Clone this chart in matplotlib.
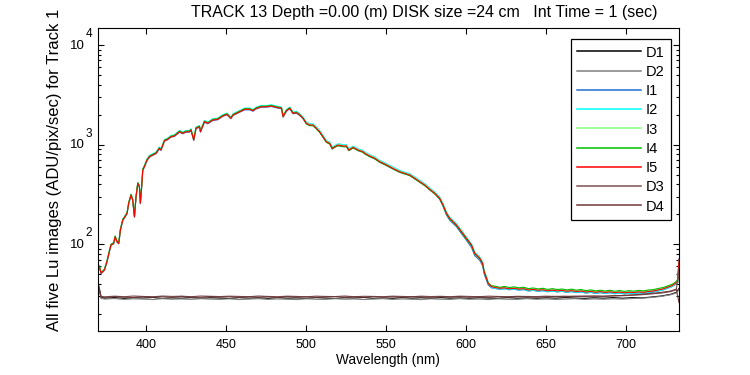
import matplotlib
matplotlib.use("Agg")
import matplotlib.pyplot as plt
from matplotlib.ticker import LogLocator, NullLocator, FixedLocator, NullFormatter

plt.rcParams['font.family'] = ['Liberation Sans', 'DejaVu Sans']

title = "TRACK 13 Depth =0.00 (m) DISK size =24 cm   Int Time = 1 (sec)"
xlabel = "Wavelength (nm)"
ylabel = "All five Lu images (ADU/pix/sec) for Track 1"
names = ["D1", "D2", "I1", "I2", "I3", "I4", "I5", "D3", "D4"]
xticks = [400, 450, 500, 550, 600, 650, 700]
ydecades = [2, 3, 4]

# wavelengths for the illuminated (I) spectra
wl_b = [369.7, 370.6, 371.6, 373.7, 375.3, 376.8, 377.8, 379.5, 380.4, 381.6,
        382.7, 383.7, 385.2, 386.6, 387.9, 388.9, 390.4, 391.4, 392.5, 393.5,
        394.6, 395.6, 396.2, 397.1, 397.7, 398.7, 400.4, 401.9, 403.9, 406.0,
        408.1, 409.1, 411.3, 413.3, 415.4, 417.5, 420.7, 422.7, 424.8, 426.9,
        427.9, 429.6, 431.0, 433.2, 433.8, 436.3, 438.4, 441.5, 444.6, 447.7,
        450.4, 452.8, 454.2, 456.3, 458.4, 461.5, 464.6, 466.7, 468.8, 471.9,
        475.1, 478.2, 481.4, 484.5, 485.5, 487.6, 489.7, 491.7, 493.9, 495.9,
        498.0, 500.1, 502.2, 504.3, 506.4, 508.4, 510.5, 512.6, 514.7, 516.2,
        517.8, 519.9, 523.0, 525.2, 526.6, 529.3, 532.4, 535.5, 536.6, 539.7,
        542.9, 546.0, 549.1, 552.3, 555.4, 558.5, 561.6, 564.8, 567.9, 571.0,
        574.2, 577.3, 580.4, 583.5, 585.6, 587.7, 589.8, 594.0, 597.1, 600.2,
        603.4, 605.4, 608.6, 610.3, 611.3, 612.8, 613.8,
        615.9, 618.5, 621.1, 624.0, 627.0, 630.0, 633.0, 636.0, 639.0, 642.0,
        645.0, 648.0, 651.0, 654.0, 657.0, 660.0, 663.0, 666.0, 669.0, 672.0,
        675.0, 678.0, 681.0, 684.0, 687.0, 690.0, 693.0, 696.0, 699.0, 702.0,
        705.0, 708.0, 711.0, 714.0, 717.0, 720.0, 723.0, 726.0, 729.0, 731.0,
        732.4, 733.2]

I1 = [61.4, 59, 50.7, 54.6, 66.2, 83.5, 97.4, 101, 118, 105, 101, 138, 173, 187, 203, 255, 309, 275, 187, 297,
      405, 374, 255, 389, 550, 594, 694, 748, 779, 810, 909, 874, 1083, 1119, 1188, 1208, 1334, 1285, 1334, 1334,
      1387, 1101, 1442, 1497, 1334, 1680, 1620, 1747, 1776, 1917, 1993, 1818, 1961, 2039, 2117, 2236, 2236, 2166, 2289, 2375,
      2375, 2414, 2342, 2289, 1886, 2166, 2289, 2039, 2068, 1961, 1818, 1620, 1557, 1557, 1442, 1334, 1188, 1058, 1020, 909,
      943, 981, 958, 958, 874, 931, 874, 841, 810, 761, 722, 667, 633, 594, 559, 530, 510, 491, 454, 421,
      389, 352, 322, 283, 240, 197, 174, 150, 128, 110, 93, 77, 69, 61, 50.5, 43.5, 39.2,
      36.6, 36.0, 35.4, 35.8, 35.0, 35.4, 34.7, 35.1, 34.0, 34.5, 33.8, 34.2, 33.4, 33.9, 33.3, 33.7, 33.0, 33.5, 32.8, 33.2,
      32.4, 32.9, 32.2, 32.7, 32.1, 32.6, 31.9, 32.4, 31.8, 32.3, 32.0, 32.5, 32.2, 32.8, 33.2, 34.0, 34.8, 36.2, 37.8, 39.8,
      41.2, 72]
I2 = [63.2, 60.8, 52.2, 56.3, 68.2, 86.0, 100, 104, 121, 108, 104, 142, 179, 193, 209, 263, 318, 284, 193, 306,
      417, 389, 266, 405, 573, 618, 722, 779, 811, 843, 946, 909, 1127, 1164, 1236, 1257, 1387, 1337, 1387, 1387,
      1443, 1145, 1501, 1557, 1387, 1748, 1685, 1818, 1848, 1994, 2073, 1891, 2040, 2122, 2202, 2327, 2327, 2254, 2381, 2471,
      2471, 2511, 2437, 2381, 1962, 2254, 2381, 2122, 2152, 2040, 1891, 1685, 1620, 1620, 1501, 1387, 1236, 1101, 1061, 946,
      982, 1021, 997, 997, 909, 968, 909, 874, 843, 792, 751, 694, 658, 618, 582, 551, 530, 511, 473, 438,
      405, 367, 335, 298, 255, 211, 187, 161, 138, 118, 101, 83.6, 74.6, 66.4, 54.7, 47.0, 41.8,
      37.0, 36.1, 35.6, 35.9, 35.2, 35.5, 34.9, 35.2, 34.2, 34.6, 34.0, 34.3, 33.6, 34.0, 33.5, 33.8, 33.2, 33.6, 33.0, 33.3,
      32.6, 33.0, 32.4, 32.8, 32.3, 32.7, 32.1, 32.5, 32.0, 32.4, 32.2, 32.6, 32.4, 32.9, 33.4, 34.1, 34.9, 36.3, 37.9, 39.9,
      41.5, 68]
I3 = [62.6, 60.2, 51.7, 55.8, 67.6, 85.1, 99.4, 103, 120, 107, 103, 140, 177, 191, 207, 261, 315, 281, 191, 303,
      413, 382, 261, 397, 562, 606, 708, 764, 795, 826, 927, 892, 1105, 1141, 1212, 1232, 1360, 1311, 1360, 1360,
      1415, 1123, 1472, 1527, 1360, 1714, 1652, 1783, 1812, 1955, 2033, 1854, 2001, 2081, 2159, 2282, 2282, 2210, 2335, 2423,
      2423, 2462, 2390, 2335, 1924, 2210, 2335, 2081, 2110, 2001, 1854, 1652, 1589, 1589, 1472, 1360, 1212, 1080, 1040, 927,
      963, 1001, 978, 978, 892, 949, 892, 857, 826, 777, 736, 681, 645, 606, 571, 540, 520, 501, 464, 429,
      397, 360, 328, 292, 250, 207, 184, 158, 135, 116, 99.4, 82, 73.1, 65.1, 53.6, 46.1, 41,
      38.0, 37.2, 36.6, 37.0, 36.2, 36.6, 35.9, 36.3, 35.2, 35.7, 35.0, 35.4, 34.6, 35.1, 34.5, 34.9, 34.2, 34.7, 34.0, 34.4,
      33.6, 34.1, 33.4, 33.9, 33.3, 33.8, 33.1, 33.6, 33.0, 33.5, 33.2, 33.7, 33.4, 34.0, 34.4, 35.2, 36.0, 37.4, 39.0, 41.0,
      43, 67]
I4 = [63, 60.5, 52, 56, 68, 86, 100, 104, 121, 108, 104, 141, 178, 192, 208, 262, 317, 282, 192, 305,
      415, 384, 262, 399, 564, 609, 712, 767, 799, 830, 932, 896, 1110, 1147, 1218, 1238, 1367, 1317, 1367, 1367,
      1422, 1129, 1479, 1535, 1367, 1722, 1661, 1791, 1821, 1965, 2043, 1864, 2011, 2091, 2170, 2293, 2293, 2221, 2347, 2435,
      2435, 2475, 2402, 2347, 1934, 2221, 2347, 2091, 2120, 2011, 1836, 1611, 1549, 1549, 1435, 1327, 1182, 1053, 1015, 904,
      939, 976, 953, 953, 870, 926, 870, 836, 806, 757, 718, 664, 629, 591, 557, 527, 507, 489, 452, 419,
      387, 351, 320, 285, 244, 202, 179, 154, 132, 113, 97, 80, 71.5, 64, 53, 45.5, 40.8,
      38.5, 37.9, 37.0, 37.8, 36.9, 37.4, 36.6, 37.1, 35.9, 36.5, 35.7, 36.2, 35.3, 35.9, 35.2, 35.6, 34.9, 35.5, 34.7, 35.2,
      34.3, 34.9, 34.1, 34.6, 34.0, 34.6, 33.8, 34.4, 33.7, 34.3, 33.9, 34.5, 34.1, 34.8, 35.1, 36.0, 36.8, 38.2, 39.8, 41.8,
      44, 66]
I5 = [62, 59.6, 51.2, 55.2, 66.9, 84.3, 98.4, 102, 119, 106, 102, 139, 175, 189, 205, 258, 312, 278, 189, 300,
      409, 378, 258, 393, 556, 600, 701, 756, 787, 818, 918, 883, 1094, 1130, 1200, 1220, 1347, 1298, 1347, 1347,
      1401, 1112, 1457, 1512, 1347, 1697, 1636, 1765, 1794, 1936, 2013, 1836, 1981, 2060, 2138, 2259, 2259, 2188, 2312, 2399,
      2399, 2438, 2366, 2312, 1905, 2188, 2312, 2060, 2089, 1981, 1836, 1636, 1573, 1573, 1457, 1347, 1200, 1069, 1030, 918,
      953, 991, 968, 968, 883, 940, 883, 849, 818, 769, 729, 674, 639, 600, 565, 535, 515, 496, 459, 425,
      393, 356, 325, 289, 248, 205, 182, 156, 134, 115, 98.4, 81.2, 72.4, 64.5, 53.1, 45.6, 40.6,
      37.6, 36.8, 36.2, 36.6, 35.8, 36.2, 35.5, 35.9, 34.8, 35.3, 34.6, 35.0, 34.2, 34.7, 34.1, 34.5, 33.8, 34.3, 33.6, 34.0,
      33.2, 33.7, 33.0, 33.5, 32.9, 33.4, 32.7, 33.2, 32.6, 33.1, 32.8, 33.3, 33.0, 33.6, 34.0, 34.8, 35.6, 37.0, 38.6, 40.6,
      42.5, 70]

# wavelengths for the dark (D) spectra
wl_d = [369.7, 370.6, 371.6, 374, 380, 386, 392, 398, 404, 410, 416, 422, 428, 434, 440, 446, 452, 458, 464, 470,
        476, 482, 488, 494, 500, 506, 512, 518, 524, 530, 536, 542, 548, 554, 560, 566, 572, 578, 584, 590,
        596, 602, 608, 614, 620, 626, 632, 638, 644, 650, 656, 662, 668, 674, 680, 686, 692, 698, 704, 710,
        716, 722, 728, 731.5, 733.2]
D1 = [40.5, 35, 29.3, 28.8, 29.2, 28.7, 29.1, 28.9, 29.3, 28.6, 29.0, 28.8, 29.2, 28.7, 29.1, 28.9, 28.6, 29.2, 28.8, 29.1,
      28.7, 29.2, 28.8, 29.0, 28.7, 29.2, 28.9, 28.6, 29.1, 28.9, 29.3, 28.7, 29.0, 28.7, 29.2, 28.8, 29.1, 28.7, 29.2, 28.8,
      29.0, 28.7, 29.1, 28.9, 28.7, 29.2, 28.8, 29.0, 28.7, 29.1, 28.8, 29.2, 28.9, 28.7, 29.1, 28.8, 29.2, 28.8, 29.2, 29.0,
      29.6, 30.3, 31.5, 33, 36]
D2 = [39.5, 34, 28.6, 28.2, 28.6, 28.0, 28.4, 28.2, 27.9, 28.5, 28.1, 28.3, 28.0, 28.5, 28.2, 28.0, 28.4, 27.9, 28.2, 28.5,
      28.0, 28.3, 28.1, 27.9, 28.4, 28.1, 28.0, 28.5, 28.1, 28.3, 27.9, 28.2, 28.5, 28.0, 28.3, 28.1, 27.9, 28.4, 28.1, 28.0,
      28.5, 28.1, 28.2, 27.9, 28.4, 28.1, 28.0, 28.5, 28.1, 28.3, 28.0, 28.2, 28.5, 28.0, 28.3, 28.1, 28.4, 28.2, 28.6, 28.8,
      29.3, 30.0, 31.2, 32.5, 35]
D3 = [41, 36, 30.0, 29.7, 30.2, 29.8, 30.3, 30.0, 29.7, 30.3, 30.0, 30.2, 29.8, 30.3, 30.1, 29.9, 30.2, 30.0, 29.8, 30.3,
      30.0, 29.8, 30.2, 30.0, 29.7, 30.2, 30.0, 29.9, 30.3, 29.8, 30.1, 30.0, 29.8, 30.2, 30.0, 29.8, 30.2, 29.9, 30.1, 29.8,
      30.2, 30.0, 29.8, 30.2, 30.0, 29.8, 30.1, 30.0, 29.9, 30.2, 30.0, 30.2, 29.9, 30.3, 30.1, 30.0, 30.3, 30.5, 30.8, 31.2,
      31.8, 32.4, 33.5, 35, 58]
D4 = [40, 35, 29.7, 29.4, 29.9, 29.5, 29.3, 29.9, 29.6, 29.8, 29.4, 30.0, 29.6, 29.4, 29.9, 29.6, 29.8, 29.4, 29.9, 29.5,
      29.8, 29.4, 29.9, 29.6, 29.8, 29.4, 29.7, 29.9, 29.5, 29.8, 29.4, 29.9, 29.6, 29.8, 29.5, 29.9, 29.7, 29.4, 29.8, 29.6,
      29.9, 29.5, 29.8, 29.4, 29.8, 29.6, 29.9, 29.7, 29.5, 29.8, 30.0, 29.8, 30.2, 30.0, 30.3, 30.2, 30.5, 30.7, 31.1, 31.5,
      32.2, 32.9, 34.0, 35.5, 26]

colors = ["#000000", "#808080", "#2070d0", "#00ffff", "#80ff80",
          "#00c000", "#ff0000", "#805050", "#703838"]

series = [(wl_d, D1), (wl_d, D2), (wl_b, I1), (wl_b, I2), (wl_b, I3),
          (wl_b, I4), (wl_b, I5), (wl_d, D3), (wl_d, D4)]

fig = plt.figure(figsize=(7.5, 3.75), dpi=100)
ax = fig.add_axes([98 / 750, 1 - 331 / 375, (679 - 98) / 750, (331 - 28) / 375])

for (x, y), c, n in zip(series, colors, names):
    ax.plot(x, y, color=c, lw=0.8, label=n)

ax.set_yscale('log')
ax.set_xlim(369.7, 733.2)
ax.set_ylim(13.5, 14800)
ax.xaxis.set_major_locator(FixedLocator(xticks))
ax.xaxis.set_minor_locator(NullLocator())
ax.yaxis.set_major_locator(FixedLocator([10.0 ** k for k in ydecades]))
ax.yaxis.set_minor_locator(LogLocator(base=10, subs=range(2, 10), numticks=20))
ax.yaxis.set_major_formatter(NullFormatter())
ax.yaxis.set_minor_formatter(NullFormatter())

ax.tick_params(which='both', direction='in', top=True, right=True, width=0.8)
ax.tick_params(axis='x', labelsize=9, pad=6)
ax.tick_params(which='major', length=4.5)
ax.tick_params(which='minor', length=2.3)
for s in ax.spines.values():
    s.set_linewidth(0.8)

# y tick labels drawn as "10" with a raised exponent (MATLAB style)
for k in ydecades:
    ax.annotate("10", xy=(0, 10.0 ** k), xycoords=('axes fraction', 'data'),
                xytext=(-9.4, -0.5), textcoords='offset points',
                ha='right', va='center', fontsize=9.5)
    ax.annotate(str(k), xy=(0, 10.0 ** k), xycoords=('axes fraction', 'data'),
                xytext=(-8.9, 7.8), textcoords='offset points',
                ha='left', va='center', fontsize=8.5)

fig.text(424 / 750, 1 - 13 / 375, title, ha='center', va='center', fontsize=11.5)
fig.text(388 / 750, 1 - 360 / 375, xlabel, ha='center', va='center', fontsize=9.8)
fig.text(55 / 750, 1 - 170 / 375, ylabel, rotation=90, ha='center', va='center', fontsize=12)

leg = ax.legend(loc='upper right', bbox_to_anchor=(671 / 750, 1 - 39 / 375),
                bbox_transform=fig.transFigure, fontsize=10.5, handlelength=4.4,
                handletextpad=0.3, labelspacing=0.36, borderpad=0.45,
                fancybox=False, framealpha=1, edgecolor='black', borderaxespad=0)
leg.get_frame().set_linewidth(0.9)
for h in leg.get_lines():
    h.set_linewidth(1.1)

fig.savefig("out.png", dpi=100)
